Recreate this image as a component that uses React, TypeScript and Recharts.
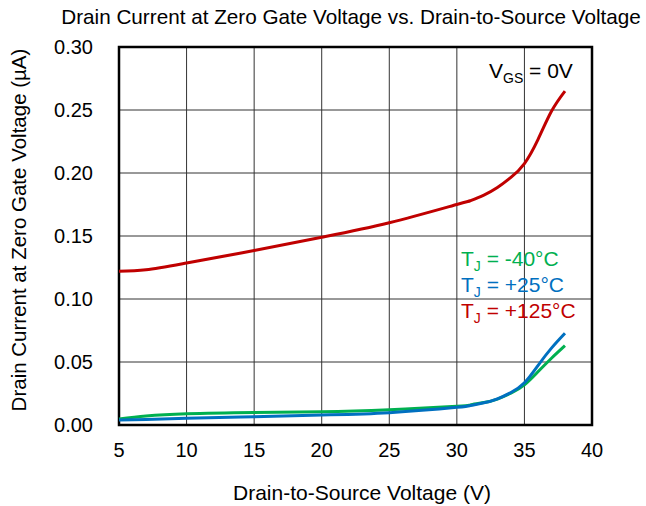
import React from 'react';
import { LineChart, Line, XAxis, YAxis, CartesianGrid, ReferenceArea, Customized } from 'recharts';

const vds = [5, 7, 10, 15, 20, 25, 30, 31, 32, 33, 34, 35, 36, 37, 38];
const i125 = [0.122, 0.1232, 0.1286, 0.1385, 0.149, 0.1605, 0.175, 0.178, 0.1825, 0.1885, 0.1965, 0.2075, 0.2265, 0.249, 0.265];
const iM40 = [0.0048, 0.0072, 0.009, 0.010, 0.0106, 0.0122, 0.0148, 0.016, 0.0178, 0.0206, 0.0252, 0.0318, 0.0422, 0.053, 0.063];
const i25 = [0.004, 0.0044, 0.0053, 0.0066, 0.008, 0.0098, 0.014, 0.0155, 0.0176, 0.0208, 0.0258, 0.0335, 0.0472, 0.061, 0.0728];

const xTicks = [5, 10, 15, 20, 25, 30, 35, 40];
const yTicks = [0, 0.05, 0.1, 0.15, 0.2, 0.25, 0.3];

const title = 'Drain Current at Zero Gate Voltage vs. Drain-to-Source Voltage';
const xLabel = 'Drain-to-Source Voltage (V)';
const yLabel = 'Drain Current at Zero Gate Voltage (µA)';

const RED = '#C00000';
const BLUE = '#0070C0';
const GREEN = '#00B050';

const data = vds.map((v, i) => ({ v, r: i125[i], g: iM40[i], b: i25[i] }));

const FONT = 'Liberation Sans, Arial, sans-serif';

const Overlay = () => (
  <g fontFamily={FONT}>
    <text x={351} y={24} fontSize={20.7} textAnchor="middle" fill="#000">{title}</text>
    <text x={362} y={500} fontSize={21} textAnchor="middle" fill="#000">{xLabel}</text>
    <text x={26} y={230} fontSize={20.5} textAnchor="middle" fill="#000" transform="rotate(-90 26 230)">{yLabel}</text>
    <text x={489} y={78} fontSize={21} fill="#000">
      V<tspan fontSize={14} dy={5}>GS</tspan><tspan dy={-5}> = 0V</tspan>
    </text>
    <text x={461} y={266} fontSize={21} fill={GREEN}>
      T<tspan fontSize={14} dy={5}>J</tspan><tspan dy={-5}> = -40°C</tspan>
    </text>
    <text x={461} y={292} fontSize={21} fill={BLUE}>
      T<tspan fontSize={14} dy={5}>J</tspan><tspan dy={-5}> = +25°C</tspan>
    </text>
    <text x={461} y={318} fontSize={21} fill={RED}>
      T<tspan fontSize={14} dy={5}>J</tspan><tspan dy={-5}> = +125°C</tspan>
    </text>
  </g>
);

export default function App() {
  return (
    <div style={{ position: 'absolute', left: 0, top: 0, width: 646, height: 506, background: '#fff' }}>
      <LineChart width={646} height={506} data={data} margin={{ top: 47, right: 54, bottom: 0, left: 0 }}>
        <CartesianGrid stroke="#333" strokeWidth={1} />
        <XAxis
          dataKey="v"
          type="number"
          domain={[5, 40]}
          ticks={xTicks}
          height={81}
          axisLine={false}
          tickLine={false}
          tickSize={0}
          tickMargin={18}
          tick={{ fill: '#000', fontSize: 20, fontFamily: FONT }}
          interval={0}
        />
        <YAxis
          type="number"
          domain={[0, 0.3]}
          ticks={yTicks}
          width={119}
          axisLine={false}
          tickLine={false}
          tickSize={0}
          tickMargin={26}
          tickFormatter={(t: number) => t.toFixed(2)}
          tick={{ fill: '#000', fontSize: 20, fontFamily: FONT }}
          interval={0}
        />
        <ReferenceArea x1={5} x2={40} y1={0} y2={0.3} fill="none" fillOpacity={0} stroke="#000" strokeWidth={2.5} ifOverflow="visible" />
        <Line type="natural" dataKey="r" stroke={RED} strokeWidth={3} dot={false} isAnimationActive={false} />
        <Line type="natural" dataKey="g" stroke={GREEN} strokeWidth={3} dot={false} isAnimationActive={false} />
        <Line type="natural" dataKey="b" stroke={BLUE} strokeWidth={3} dot={false} isAnimationActive={false} />
        <Customized component={Overlay} />
      </LineChart>
    </div>
  );
}
